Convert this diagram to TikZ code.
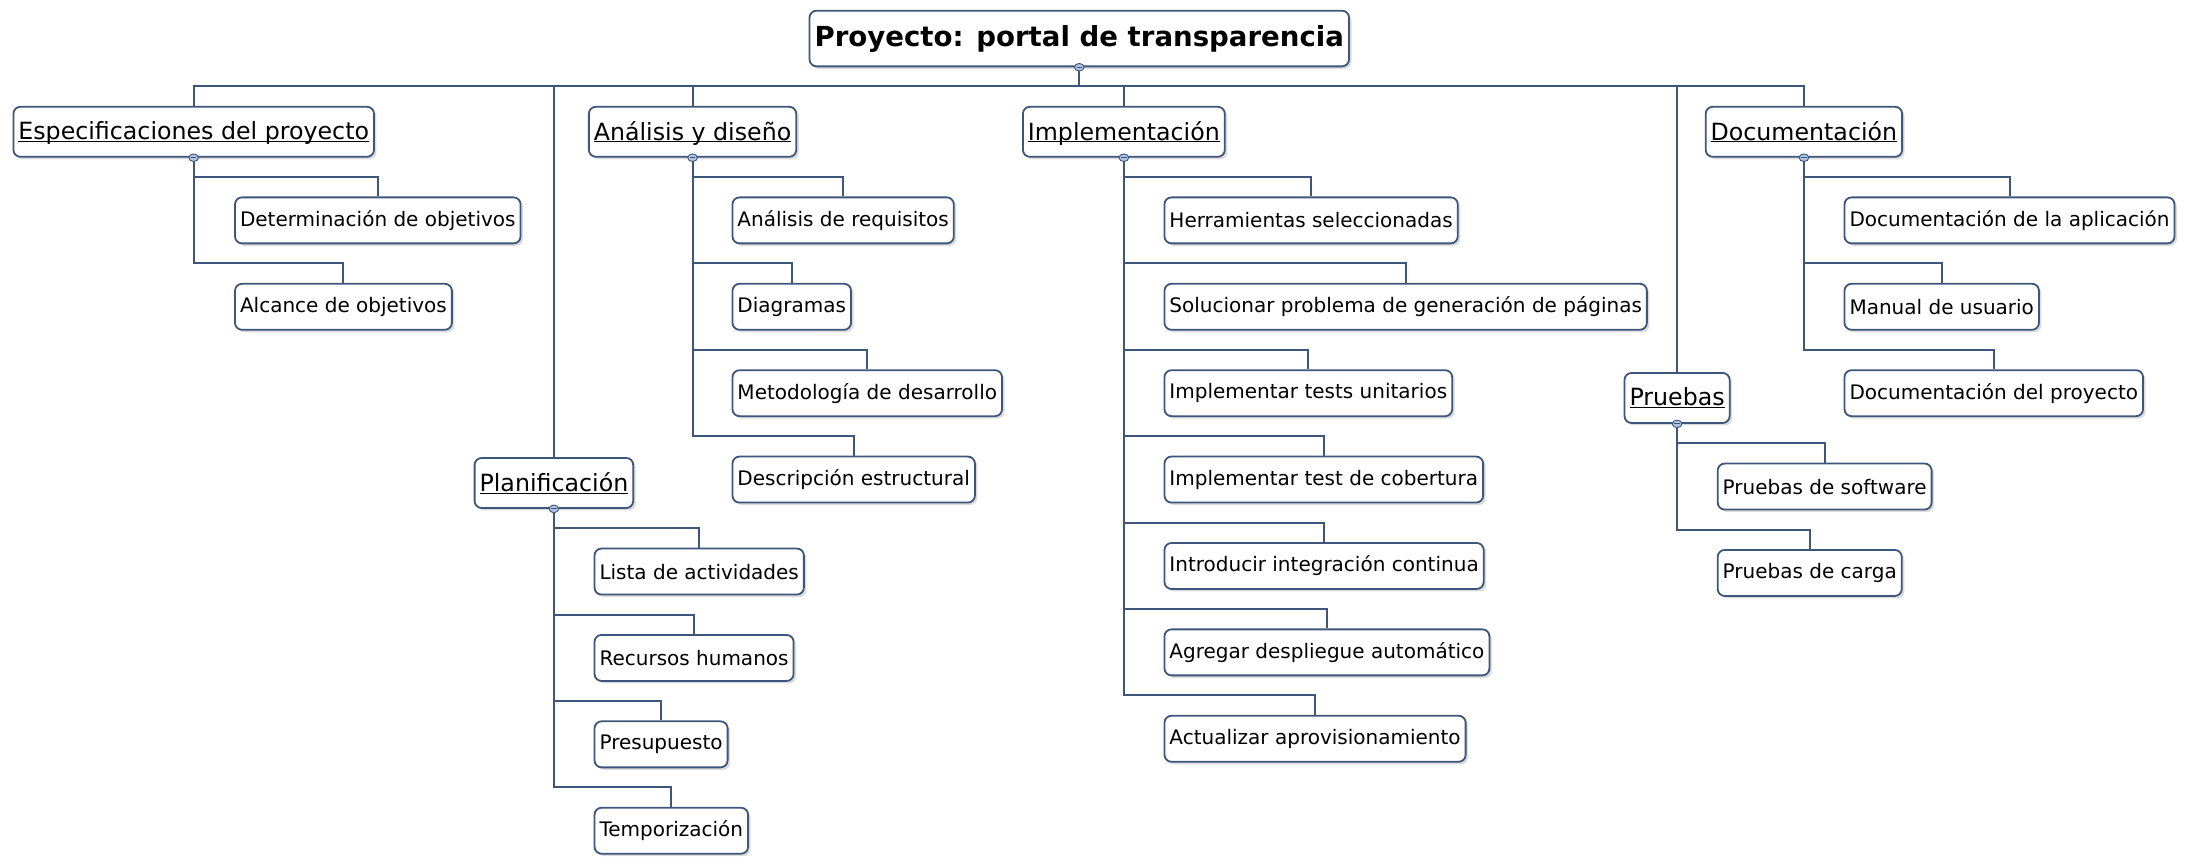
\documentclass[tikz,border=0pt]{standalone}
\usepackage{fontspec}
\setmainfont{DejaVu Sans}
\usetikzlibrary{shadows}
\definecolor{linec}{RGB}{62,86,124}
\definecolor{knobc}{RGB}{176,196,226}
\newcommand\knobat[1]{%
  \filldraw[fill=knobc,draw=linec,line width=0.9pt] (#1.south) ellipse [x radius=4.8pt, y radius=3.8pt];
  \draw[linec,line width=1pt] ([xshift=-2.7pt]#1.south) -- ([xshift=2.7pt]#1.south);}
\newcommand\ulx[1]{\underline{\raisebox{0pt}[\height][0pt]{#1}}}
\tikzset{
  box/.style={draw=linec, line width=1.8pt, fill=white, rounded corners=7pt,
    drop shadow={opacity=0.28, shadow xshift=2.5pt, shadow yshift=-2.5pt},
    text=black, align=center, inner ysep=0pt},
  rootbox/.style={box, font=\fontsize{27.6}{32}\selectfont\bfseries, minimum height=55.7pt, inner xsep=5pt, anchor=north},
  lvone/.style={box, font=\fontsize{23.7}{28}\selectfont, minimum height=50pt, inner xsep=5pt, anchor=north},
  leaf/.style={box, font=\fontsize{20}{24}\selectfont, minimum height=46pt, inner xsep=5pt, anchor=north west},
  conn/.style={draw=linec, line width=2pt},
}
\begin{document}
\begin{tikzpicture}[x=1.3935pt,y=-1.3935pt]
\useasboundingbox (0,0) rectangle (1568,620);
% root
\node[rootbox] (root) at (774.5,7) {Proyecto: portal de transparencia};
% level 1
\node[lvone] (es) at (139,76) {\ulx{Especificaciones del proyecto}};
\node[lvone] (pl) at (397.5,328) {\ulx{Planificación}};
\node[lvone] (an) at (497,76) {\ulx{Análisis y diseño}};
\node[lvone] (im) at (806.5,76) {\ulx{Implementación}};
\node[lvone] (pr) at (1203.5,267) {\ulx{Pruebas}};
\node[lvone] (do) at (1294.5,76) {\ulx{Documentación}};
% leaves
\node[leaf] (es1) at (168,141) {Determinación de objetivos};
\node[leaf] (es2) at (168,203) {Alcance de objetivos};
\node[leaf] (an1) at (525,141) {Análisis de requisitos};
\node[leaf] (an2) at (525,203) {Diagramas};
\node[leaf] (an3) at (525,265) {Metodología de desarrollo};
\node[leaf] (an4) at (525,327) {Descripción estructural};
\node[leaf] (im1) at (835,141) {Herramientas seleccionadas};
\node[leaf] (im2) at (835,203) {Solucionar problema de generación de páginas};
\node[leaf] (im3) at (835,265) {Implementar tests unitarios};
\node[leaf] (im4) at (835,327) {Implementar test de cobertura};
\node[leaf] (im5) at (835,389) {Introducir integración continua};
\node[leaf] (im6) at (835,451) {Agregar despliegue automático};
\node[leaf] (im7) at (835,513) {Actualizar aprovisionamiento};
\node[leaf] (do1) at (1323,141) {Documentación de la aplicación};
\node[leaf] (do2) at (1323,203) {Manual de usuario};
\node[leaf] (do3) at (1323,265) {Documentación del proyecto};
\node[leaf] (pl1) at (426,393) {Lista de actividades};
\node[leaf] (pl2) at (426,455) {Recursos humanos};
\node[leaf] (pl3) at (426,517) {Presupuesto};
\node[leaf] (pl4) at (426,579) {Temporización};
\node[leaf] (pr1) at (1232,332) {Pruebas de software};
\node[leaf] (pr2) at (1232,394) {Pruebas de carga};
% connectors
\coordinate (bus) at (774.5,62);
\foreach \c in {es,pl,an,im,pr,do}{
  \draw[conn] (root.south) -- (bus) -| (\c.north);
}
\foreach \p/\c in {es/es1,es/es2,an/an1,an/an2,an/an3,an/an4,
  im/im1,im/im2,im/im3,im/im4,im/im5,im/im6,im/im7,
  do/do1,do/do2,do/do3,pl/pl1,pl/pl2,pl/pl3,pl/pl4,pr/pr1,pr/pr2}{
  \draw[conn] (\p.south) |- ([yshift=19.5pt]\c.north) -- (\c.north);
}
\foreach \p in {root,es,pl,an,im,pr,do}{\knobat{\p}}
\end{tikzpicture}
\end{document}
